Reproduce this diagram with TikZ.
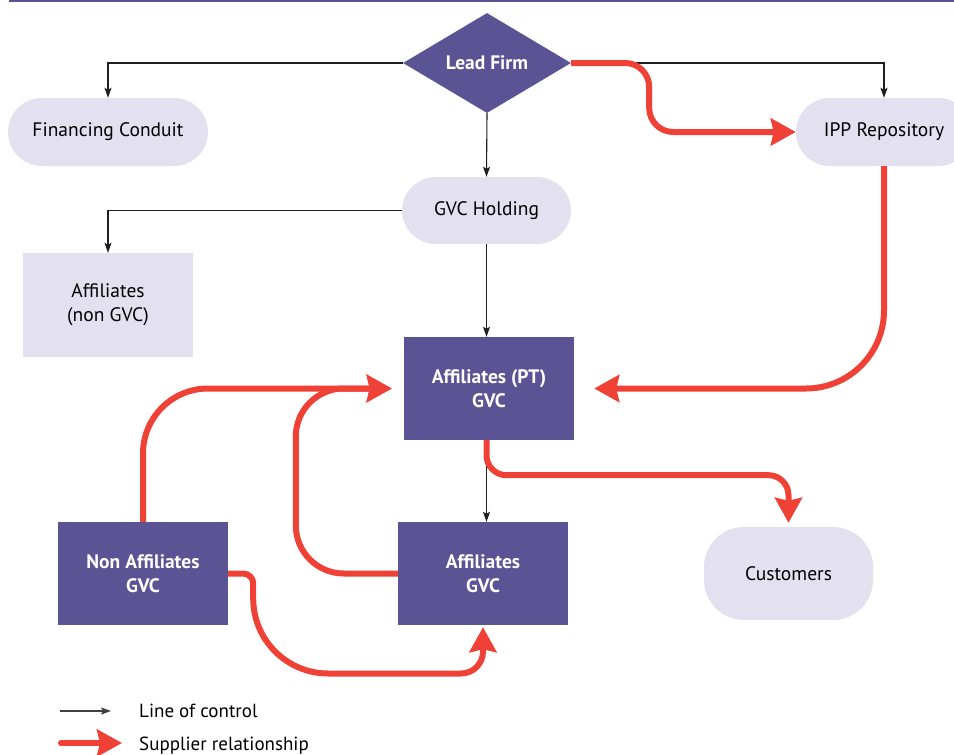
\documentclass[tikz,border=0pt]{standalone}
\usepackage{fontspec}
\setmainfont{PT Sans}
\usetikzlibrary{shapes.geometric,arrows.meta,calc}
\definecolor{fpurple}{RGB}{90,84,148}
\definecolor{flav}{RGB}{227,225,239}
\definecolor{fred}{RGB}{239,65,54}
\begin{document}
\begin{tikzpicture}[x=1pt,y=-1pt,
  every node/.style={inner sep=0pt, font=\fontsize{19.5}{24}\selectfont},
  dark/.style={fill=fpurple, text=white, font=\bfseries\fontsize{19.5}{24}\selectfont, align=center, minimum width=170pt, minimum height=103pt},
  lightpill/.style={fill=flav, rounded corners=34pt, minimum height=68pt},
  lightbox/.style={fill=flav, align=center},
  legtext/.style={anchor=base west, font=\fontsize{19}{24}\selectfont},
  ctrl/.style={draw=black!88, line width=1.1pt, -{Stealth[length=10pt,width=7pt,inset=2pt]}},
  sup/.style={draw=fred, line width=6pt, -{Stealth[length=25pt,width=27pt,inset=3pt]}},
]
\path[use as bounding box] (0,0) rectangle (954,755);
\clip (0,0) rectangle (954,755);
\draw[fpurple, line width=2pt] (9,0.5) -- (954,0.5);

\node[diamond, fill=fpurple, minimum width=168pt, minimum height=100pt, text=white, font=\bfseries\fontsize{19.5}{24}\selectfont] (lead) at (487,63) {Lead Firm};
\node[lightpill, minimum width=200pt] (fin) at (108,132) {Financing Conduit};
\node[lightpill, minimum width=176pt] (ipp) at (884,132) {IPP Repository};
\node[lightpill, minimum width=169pt, minimum height=67pt] (hold) at (486.5,210.5) {GVC Holding};
\node[lightbox, minimum width=170pt, minimum height=104pt] (affng) at (108,305) {Affiliates\\(non GVC)};
\node[dark] (pt) at (489,388.5) {Affiliates (PT)\\GVC};
\node[dark] (nonaff) at (143,573.5) {Non Affiliates\\GVC};
\node[dark] (aff) at (483,573.5) {Affiliates\\GVC};
\node[lightbox, rounded corners=40pt, minimum width=169pt, minimum height=93pt] (cust) at (788.5,573.5) {Customers};

% lines of control
\draw[ctrl] (lead.west) -| (fin.north);
\draw[ctrl] (lead.east) -| (ipp.north);
\draw[ctrl] (lead.south) -- (hold.north);
\draw[ctrl] (hold.west) -| (affng.north);
\draw[ctrl] (hold.south) -- (hold.south |- pt.north);
\draw[ctrl] (hold.south |- pt.south) -- (hold.south |- aff.north);

% supplier relationships
\draw[sup, rounded corners=24pt] (lead.east) -- ++(78,0) |- (ipp.west);
\draw[sup, rounded corners=78pt, shorten >=20pt] (ipp.south) |- (pt.east);
\draw[sup, rounded corners=20pt, shorten >=4pt] (hold.south |- pt.south) -- ++(0,35) -| (cust.north);
\draw[sup, rounded corners=65pt, shorten >=12pt] (nonaff.north) |- (pt.west);
\draw[sup, rounded corners=48pt, shorten >=12pt] (aff.west) -- ++(-102,0) |- (pt.west);
\draw[sup, shorten >=2pt] (nonaff.east) [rounded corners=10pt] -- ++(25,0) [rounded corners=75pt] -- ++(0,100) [rounded corners=22pt] -| (aff.south);

% legend
\coordinate (l1) at (60,711);
\coordinate (l2) at (111,711);
\draw[ctrl, draw=black!75] (l1) -- (l2);
\node[legtext] (lt1) at (139,717) {Line of control};
\coordinate (s1) at (61,743);
\coordinate (s2) at (122,743);
\draw[sup, line cap=round] (s1) -- (s2);
\node[legtext] (lt2) at (139,750) {Supplier relationship};
\end{tikzpicture}
\end{document}
